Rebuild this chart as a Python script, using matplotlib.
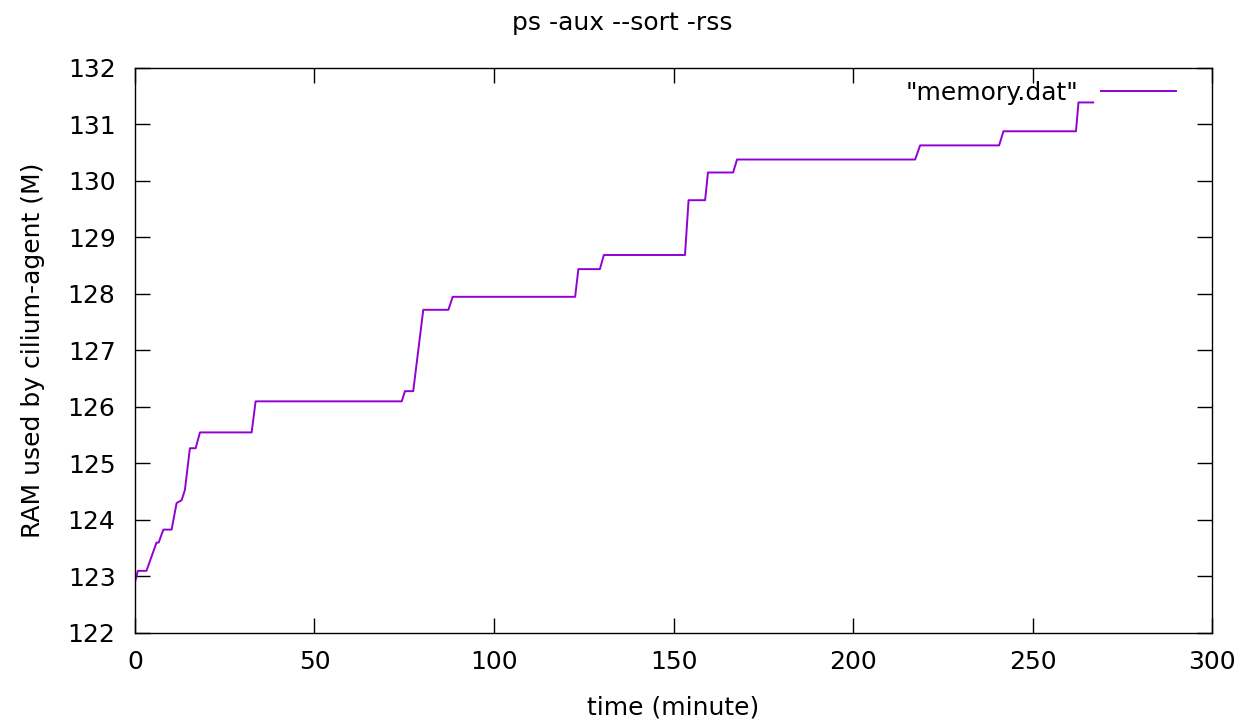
import matplotlib

matplotlib.use("Agg")
import matplotlib.pyplot as plt  # noqa: E402

# time (minute) vs RAM (M)
TIME = [0.0, 0.8, 3.2, 4.6, 6.0, 6.6, 7.9, 10.2, 11.6, 13.0, 13.9, 15.3,
        16.9, 18.1, 32.5, 33.6, 74.3, 75.2, 77.5, 80.3, 87.3, 88.5,
        122.6, 123.5, 129.5, 130.6, 153.2, 154.2, 158.8, 159.6, 166.6,
        167.7, 217.3, 218.7, 240.7, 241.9, 262.1, 262.8, 266.9]
RAM = [122.9, 123.1, 123.1, 123.35, 123.6, 123.6, 123.83, 123.83, 124.3,
       124.35, 124.53, 125.27, 125.27, 125.55, 125.55, 126.1, 126.1,
       126.28, 126.28, 127.72, 127.72, 127.95, 127.95, 128.44, 128.44,
       128.69, 128.69, 129.66, 129.66, 130.15, 130.15, 130.38, 130.38,
       130.63, 130.63, 130.88, 130.88, 131.39, 131.39]

XTICKS = [0, 50, 100, 150, 200, 250, 300]
YTICKS = list(range(122, 133))

plt.rcParams["font.family"] = ["DejaVu Sans"]
FS = 18

fig = plt.figure(figsize=(12.44, 7.24), dpi=100)
ax = fig.add_axes([0.1085, 0.1257, 0.8658, 0.7804])

ax.plot(TIME, RAM, color="#9400d3", lw=1.4, label='"memory.dat"')

ax.set_xlim(0, 300)
ax.set_ylim(122, 132)
ax.set_xticks(XTICKS)
ax.set_yticks(YTICKS)
ax.tick_params(direction="in", length=11, width=1, top=True, right=True,
               labelsize=FS, colors="black")
ax.tick_params(axis="y", pad=14)
ax.tick_params(axis="x", pad=12)
for s in ax.spines.values():
    s.set_linewidth(1)

ax.set_xlabel("time (minute)", fontsize=FS, labelpad=16)
ax.set_ylabel("RAM used by cilium-agent (M)", fontsize=FS, labelpad=16)
fig.suptitle("ps -aux --sort -rss", fontsize=FS, y=0.985)

leg = ax.legend(loc="upper right", frameon=False, fontsize=FS,
                markerfirst=False, handlelength=3.0, handletextpad=0.9,
                borderaxespad=0.3, bbox_to_anchor=(0.983, 1.008))

fig.savefig("out.png", dpi=100)
